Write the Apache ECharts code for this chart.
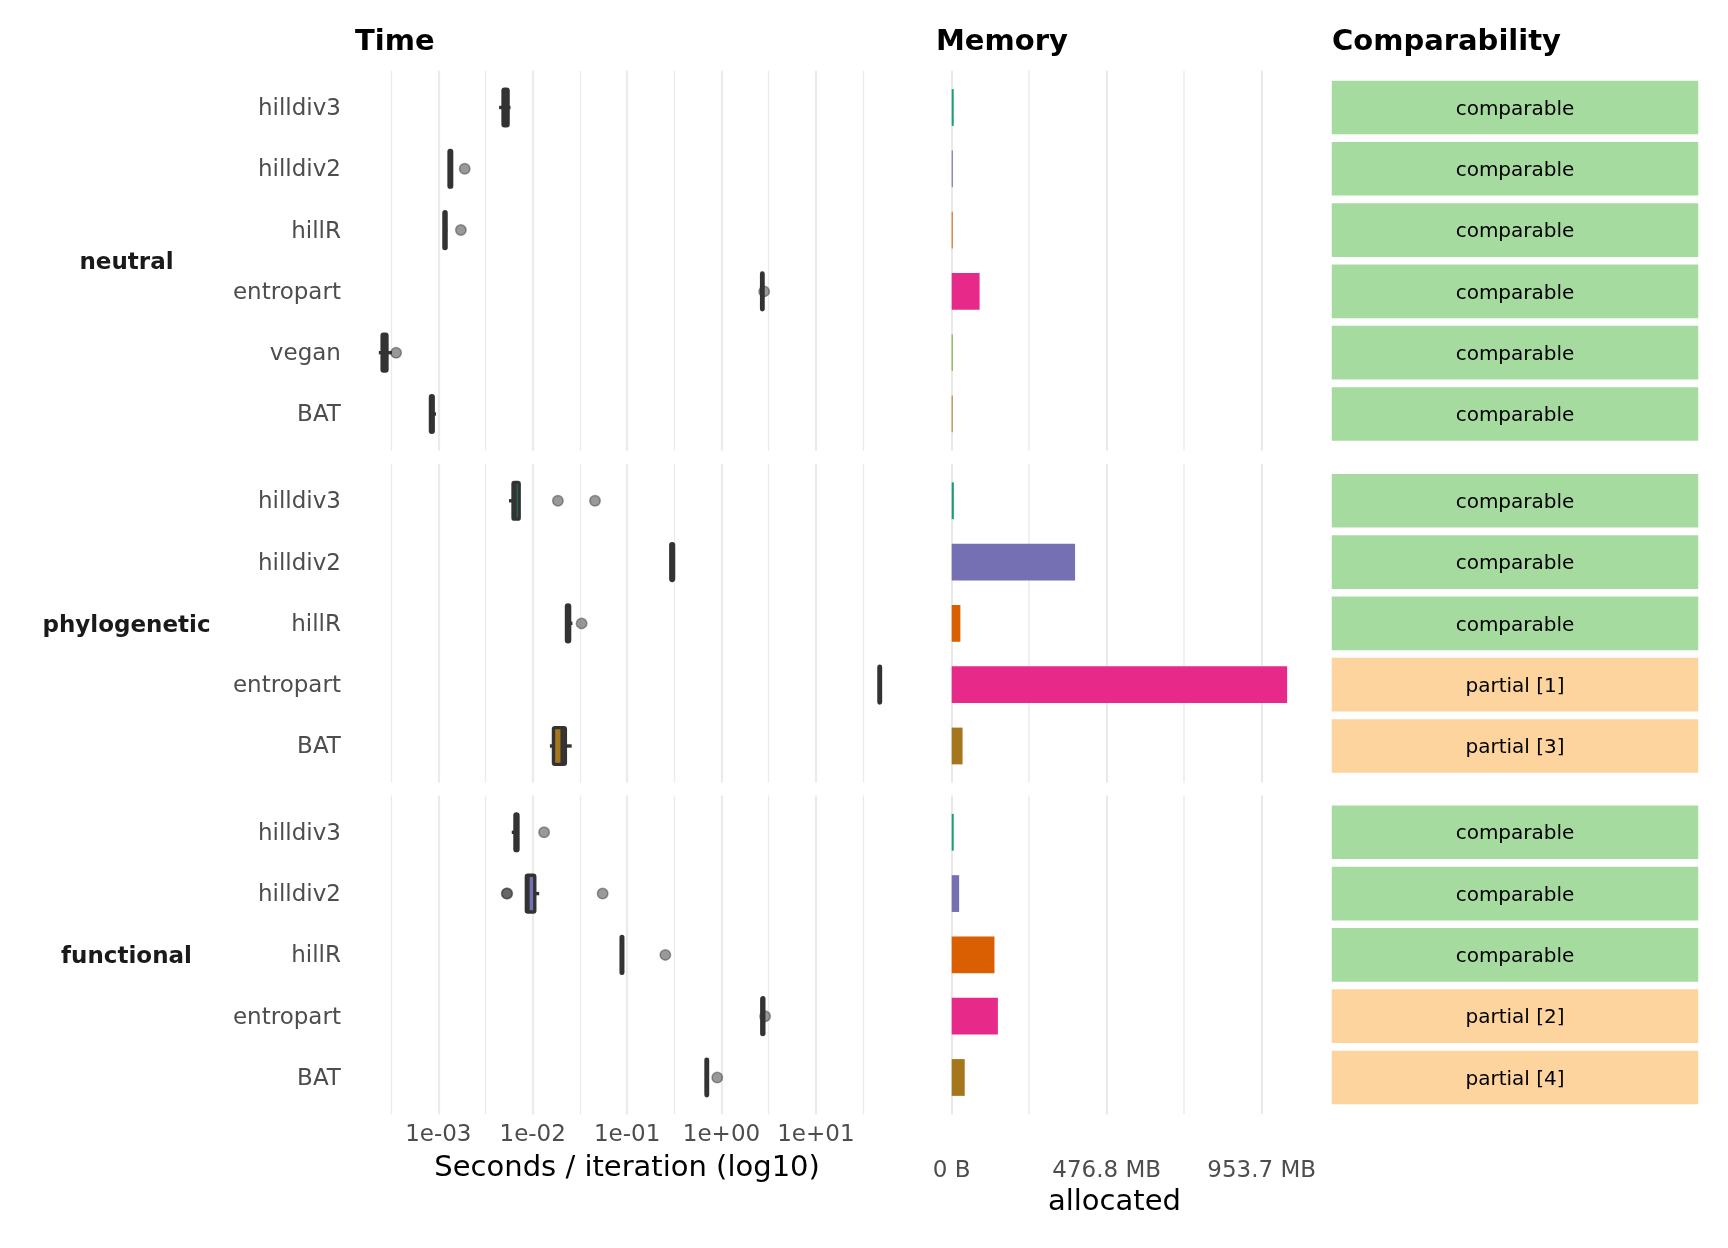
<!DOCTYPE html>
<html lang="en">
<head>
    <meta charset="UTF-8">
    <title>Benchmark: time, memory, comparability</title>
    <script src="https://cdn.jsdelivr.net/npm/echarts@6.0.0/dist/echarts.min.js"></script>
    <style>
        body { margin: 0; background: #fff; }
        #main { width: 1728px; height: 1248px; }
    </style>
</head>
<body>
<div id="main"></div>
<script>
    // facet rows and packages
    var facets = ['neutral', 'phylogenetic', 'functional'];
    var pkgNeutral = ['hilldiv3', 'hilldiv2', 'hillR', 'entropart', 'vegan', 'BAT'];
    var pkgPhylo = ['hilldiv3', 'hilldiv2', 'hillR', 'entropart', 'BAT'];
    var pkgFunctional = ['hilldiv3', 'hilldiv2', 'hillR', 'entropart', 'BAT'];

    // seconds / iteration: [lower whisker, q1, median, q3, upper whisker]
    var timeNeutral = [
        [0.004406, 0.004853, 0.005164, 0.005483, 0.005821],
        [0.001288, 0.001300, 0.001343, 0.001384, 0.001396],
        [0.001135, 0.001148, 0.001175, 0.001208, 0.001245],
        [2.630, 2.661, 2.710, 2.754, 2.786],
        [0.0002344, 0.0002541, 0.0002692, 0.0002858, 0.0003236],
        [0.000826, 0.000826, 0.000855, 0.000883, 0.000946]
    ];
    var timePhylo = [
        [0.00561, 0.00619, 0.00652, 0.00719, 0.00724],
        [0.2884, 0.2904, 0.3006, 0.3105, 0.3126],
        [0.02265, 0.02280, 0.02371, 0.02460, 0.02636],
        [46.24, 46.56, 47.42, 48.31, 48.64],
        [0.01521, 0.01660, 0.02051, 0.02218, 0.02588]
    ];
    var timeFunctional = [
        [0.00600, 0.00649, 0.00676, 0.00698, 0.00698],
        [0.00857, 0.00857, 0.00891, 0.01052, 0.01172],
        [0.08650, 0.08650, 0.08810, 0.08995, 0.08995],
        [2.630, 2.673, 2.735, 2.805, 2.818],
        [0.6855, 0.6855, 0.6982, 0.7112, 0.7161]
    ];
    // outliers: [package index, seconds]
    var outNeutral = [[1, 0.001905], [2, 0.001734], [3, 2.831], [4, 0.0003573]];
    var outPhylo = [[0, 0.01849], [0, 0.04571], [2, 0.03296]];
    var outFunctional = [[0, 0.01321], [1, 0.00531], [1, 0.00537], [1, 0.05508], [2, 0.2541], [3, 2.897], [4, 0.9016]];

    // memory allocated, bytes
    var memNeutral = [6.5e6, 3.5e6, 3.2e6, 9.0e7, 3.0e6, 3.0e6];
    var memPhylo = [7.0e6, 3.98e8, 2.8e7, 1.082e9, 3.5e7];
    var memFunctional = [6.5e6, 2.4e7, 1.38e8, 1.49e8, 4.2e7];

    // comparability
    var compNeutral = ['comparable', 'comparable', 'comparable', 'comparable', 'comparable', 'comparable'];
    var compPhylo = ['comparable', 'comparable', 'comparable', 'partial [1]', 'partial [3]'];
    var compFunctional = ['comparable', 'comparable', 'comparable', 'partial [2]', 'partial [4]'];

    // tick labels
    var timeTickValues = [-3, -2, -1, 0, 1];
    var timeTickLabels = ['1e-03', '1e-02', '1e-01', '1e+00', '1e+01'];
    var memTickValues = [0, 5e8, 1e9];
    var memTickLabels = ['0 B', '476.8 MB', '953.7 MB'];

    var pkgColors = {
        hilldiv3: '#1B9E77', hilldiv2: '#7570B3', hillR: '#D95F02',
        entropart: '#E7298A', vegan: '#66A61E', BAT: '#A6761D'
    };
    var compColors = {comparable: '#A6DBA0', partial: '#FDD49E'};

    var FONT = "'DejaVu Sans', sans-serif";
    var P = 61.3;                     // px per category
    var rowTop = [70.7, 464, 795.5];
    var grey = '#EBEBEB';

    var rows = [
        {pkgs: pkgNeutral, time: timeNeutral, out: outNeutral, mem: memNeutral, comp: compNeutral},
        {pkgs: pkgPhylo, time: timePhylo, out: outPhylo, mem: memPhylo, comp: compPhylo},
        {pkgs: pkgFunctional, time: timeFunctional, out: outFunctional, mem: memFunctional, comp: compFunctional}
    ];

    function near(v, list) {
        for (var i = 0; i < list.length; i++) {
            if (Math.abs(v - list[i]) < Math.abs(list[i]) * 1e-6 + 1e-6) return i;
        }
        return -1;
    }

    function renderBox(params, api) {
        var y = api.value(0);
        var lo = api.coord([api.value(1), y]);
        var q1 = api.coord([api.value(2), y]);
        var md = api.coord([api.value(3), y]);
        var q3 = api.coord([api.value(4), y]);
        var hi = api.coord([api.value(5), y]);
        var h = Math.abs(api.size([0, 1])[1]) * 0.6;
        var ln = {stroke: '#333333', lineWidth: 3.4};
        return {
            type: 'group',
            children: [
                {type: 'line', shape: {x1: lo[0], y1: lo[1], x2: q1[0], y2: q1[1]}, style: ln},
                {type: 'line', shape: {x1: q3[0], y1: q3[1], x2: hi[0], y2: hi[1]}, style: ln},
                {type: 'rect', shape: {x: q1[0], y: q1[1] - h / 2, width: q3[0] - q1[0], height: h, r: 1.5},
                    style: {fill: api.visual('color'), stroke: '#333333', lineWidth: 3.4}},
                {type: 'line', shape: {x1: md[0], y1: md[1] - h / 2, x2: md[0], y2: md[1] + h / 2}, style: ln}
            ]
        };
    }

    function renderBar(params, api) {
        var y = api.value(0);
        var p0 = api.coord([0, y]);
        var p1 = api.coord([api.value(1), y]);
        var h = Math.abs(api.size([0, 1])[1]) * 0.6;
        return {
            type: 'rect',
            shape: {x: p0[0], y: p0[1] - h / 2, width: p1[0] - p0[0], height: h},
            style: {fill: api.visual('color')}
        };
    }

    function tileRenderer(labels) {
        return function (params, api) {
            var y = api.value(0);
            var p0 = api.coord([0, y]);
            var p1 = api.coord([1, y]);
            var h = Math.abs(api.size([0, 1])[1]) * 0.9;
            return {
                type: 'group',
                children: [
                    {type: 'rect', shape: {x: p0[0], y: p0[1] - h / 2, width: p1[0] - p0[0], height: h},
                        style: {fill: api.visual('color'), stroke: '#ffffff', lineWidth: 1.5}},
                    {type: 'text', style: {
                        text: labels[params.dataIndex], x: (p0[0] + p1[0]) / 2, y: p0[1] + 2,
                        align: 'center', verticalAlign: 'middle',
                        fontSize: 20, fontFamily: FONT, fill: '#000000'
                    }}
                ]
            };
        };
    }

    var grids = [], xAxes = [], yAxes = [], series = [], graphics = [];

    rows.forEach(function (row, r) {
        var n = row.pkgs.length;
        var top = rowTop[r];
        var h = (n + 0.2) * P;
        var last = r === rows.length - 1;
        var base = grids.length;

        // time / memory / comparability panels
        grids.push({left: 343.9, top: top, width: 566.4, height: h});
        grids.push({left: 936.2, top: top, width: 356.5, height: h});
        grids.push({left: 1331, top: top, width: 368, height: h});
        // category labels
        grids.push({left: 343.9, top: top + 0.1 * P + 1.5, width: 10, height: n * P});

        xAxes.push({
            gridIndex: base, type: 'value', min: -4, max: 2, interval: 1,
            axisLine: {show: false}, axisTick: {show: false},
            axisLabel: {
                show: last, fontSize: 23, color: '#4D4D4D', fontFamily: FONT, margin: 9,
                showMinLabel: false, showMaxLabel: false,
                formatter: function (v) {
                    var i = near(v, timeTickValues);
                    return i < 0 ? '' : timeTickLabels[i];
                }
            },
            splitLine: {show: true, showMinLine: false, showMaxLine: false, lineStyle: {color: grey, width: 2.2}},
            minorTick: {show: false, splitNumber: 2},
            minorSplitLine: {show: true, lineStyle: {color: grey, width: 1.3}},
            name: last ? 'Seconds / iteration (log10)' : '',
            nameLocation: 'middle', nameGap: 40,
            nameTextStyle: {fontSize: 29, color: '#000000', fontFamily: FONT}
        });
        xAxes.push({
            gridIndex: base + 1, type: 'value', min: -5e7, max: 1.1e9, interval: 5e7,
            axisLine: {show: false}, axisTick: {show: false},
            axisLabel: {
                show: last, fontSize: 23, color: '#4D4D4D', fontFamily: FONT, margin: 45,
                formatter: function (v) {
                    var i = near(v, memTickValues);
                    return i < 0 ? '' : memTickLabels[i];
                }
            },
            splitLine: {show: true, lineStyle: {
                width: 2,
                color: ['rgba(0,0,0,0)', '#E9E9E9', 'rgba(0,0,0,0)', 'rgba(0,0,0,0)', 'rgba(0,0,0,0)',
                    'rgba(0,0,0,0)', '#F0F0F0', 'rgba(0,0,0,0)', 'rgba(0,0,0,0)', 'rgba(0,0,0,0)']
            }},
            name: last ? 'allocated' : '',
            nameLocation: 'middle', nameGap: 74,
            nameTextStyle: {fontSize: 29, color: '#000000', fontFamily: FONT}
        });
        xAxes.push({gridIndex: base + 2, type: 'value', min: 0, max: 1, show: false});
        xAxes.push({gridIndex: base + 3, type: 'value', show: false});

        for (var k = 0; k < 3; k++) {
            yAxes.push({gridIndex: base + k, type: 'value', min: -0.6, max: n - 0.4, inverse: true,
                show: false, splitLine: {show: false}});
        }
        yAxes.push({
            gridIndex: base + 3, type: 'category', data: row.pkgs, inverse: true,
            axisLine: {show: false}, axisTick: {show: false}, splitLine: {show: false},
            axisLabel: {fontSize: 23, color: '#4D4D4D', fontFamily: FONT, margin: 3}
        });

        series.push({
            type: 'custom', xAxisIndex: base, yAxisIndex: base,
            renderItem: renderBox, encode: {x: [1, 2, 3, 4, 5], y: 0}, z: 2,
            data: row.time.map(function (s, i) {
                return {value: [i].concat(s.map(Math.log10)), itemStyle: {color: pkgColors[row.pkgs[i]]}};
            })
        });
        series.push({
            type: 'scatter', xAxisIndex: base, yAxisIndex: base, z: 3,
            symbolSize: 10.5,
            itemStyle: {color: 'rgba(51,51,51,0.5)', opacity: 1,
                borderColor: 'rgba(51,51,51,0.45)', borderWidth: 1.5},
            data: row.out.map(function (o) { return [Math.log10(o[1]), o[0]]; })
        });
        series.push({
            type: 'custom', xAxisIndex: base + 1, yAxisIndex: base + 1,
            renderItem: renderBar, encode: {x: 1, y: 0},
            data: row.mem.map(function (b, i) {
                return {value: [i, b], itemStyle: {color: pkgColors[row.pkgs[i]]}};
            })
        });
        series.push({
            type: 'custom', xAxisIndex: base + 2, yAxisIndex: base + 2,
            renderItem: tileRenderer(row.comp), encode: {y: 0},
            data: row.comp.map(function (c, i) {
                return {value: [i], itemStyle: {color: compColors[c.split(' ')[0]]}};
            })
        });

        graphics.push({
            type: 'text', x: 126.5, y: top + h / 2 + 2.5,
            style: {text: facets[r], align: 'center', verticalAlign: 'middle',
                fontSize: 23, fontWeight: 'bold', fontFamily: FONT, fill: '#1A1A1A'}
        });
    });

    var titleStyle = {fontSize: 29, fontWeight: 'bold', color: '#000000', fontFamily: FONT};

    var myChart = echarts.init(document.getElementById('main'));
    var option = {
        backgroundColor: '#ffffff',
        animation: false,
        textStyle: {fontFamily: FONT},
        title: [
            {text: 'Time', left: 355, top: 28, padding: 0, textStyle: titleStyle},
            {text: 'Memory', left: 936, top: 28, padding: 0, textStyle: titleStyle},
            {text: 'Comparability', left: 1332, top: 28, padding: 0, textStyle: titleStyle}
        ],
        grid: grids,
        xAxis: xAxes,
        yAxis: yAxes,
        series: series,
        graphic: graphics
    };
    myChart.setOption(option);
</script>
</body>
</html>
